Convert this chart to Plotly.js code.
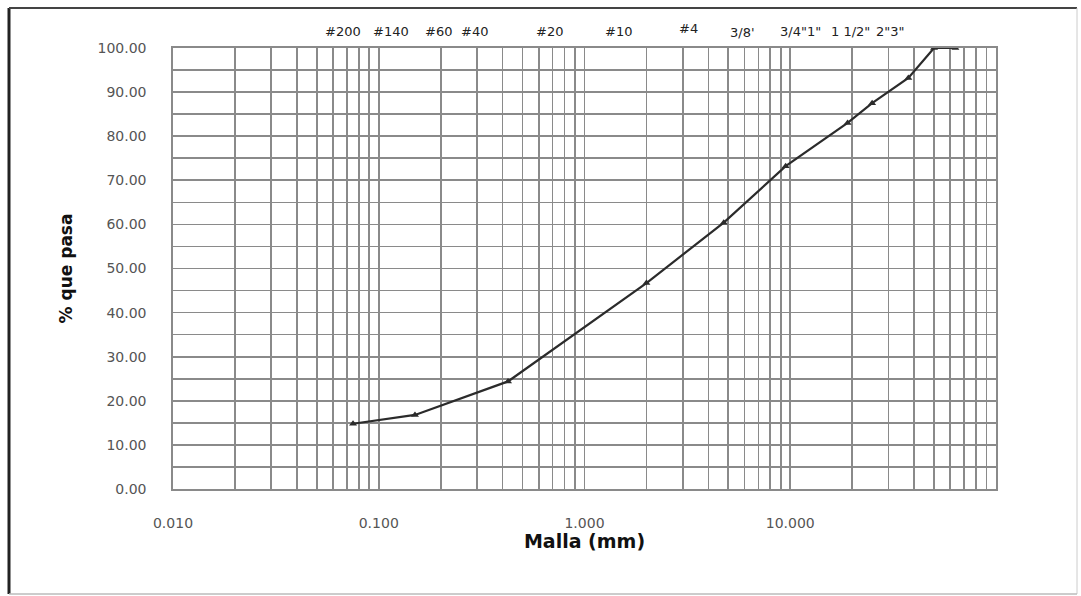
<!DOCTYPE html>
<html>
<head>
<meta charset="utf-8">
<script src="https://cdn.plot.ly/plotly-3.0.1.min.js"></script>
<style>
  html, body { margin: 0; padding: 0; background: #fff; }
  #chart { width: 1081px; height: 596px; }
</style>
</head>
<body>
<div id="chart"></div>
<script>
// ---- data ----
const sieveSizes = [0.075, 0.15, 0.425, 2.0, 4.75, 9.5, 19.0, 25.0, 37.5, 50.0, 63.5];
const percentPassing = [14.8, 16.8, 24.4, 46.7, 60.4, 73.2, 83.0, 87.5, 93.2, 100.0, 100.0];
const sieveLabels = ["#200", "#140", "#60", "#40", "#20", "#10", "#4", "3/8'", "3/4\"1\"", "1 1/2\"", "2\"3\""];
const xDecades = [0.01, 0.1, 1, 10, 100];
const xDecadeLabels = ["0.010", "0.100", "1.000", "10.000", ""];
const yTickValues = [0, 10, 20, 30, 40, 50, 60, 70, 80, 90, 100];
const yTickLabels = ["0.00", "10.00", "20.00", "30.00", "40.00", "50.00", "60.00", "70.00", "80.00", "90.00", "100.00"];

// ---- build grid ticks ----
const xTickVals = [], xTickText = [];
for (let d = 0; d < xDecades.length; d++) {
  const base = xDecades[d];
  xTickVals.push(base); xTickText.push(xDecadeLabels[d]);
  if (d < xDecades.length - 1) {
    for (let m = 2; m <= 9; m++) { xTickVals.push(+(base * m).toPrecision(6)); xTickText.push(""); }
  }
}
const yTickVals = [], yTickText = [];
for (let i = 0; i < yTickValues.length; i++) {
  yTickVals.push(yTickValues[i]); yTickText.push(yTickLabels[i]);
  if (i < yTickValues.length - 1) { yTickVals.push(yTickValues[i] + 5); yTickText.push(""); }
}

// ---- layout geometry (pixels) ----
const W = 1081, H = 596;
const M = { l: 173, r: 85, t: 48, b: 107 };
const pw = W - M.l - M.r, ph = H - M.t - M.b;
const px2x = p => (p - M.l) / pw;
const py2y = p => (H - M.b - p) / ph;

const labelPx = [343, 391, 438, 474, 549, 618, 688, 742, 800, 850, 890];
const labelPy = [31, 31, 31, 31, 31, 31, 28, 32, 31, 31, 31];
const annotations = sieveLabels.map((t, i) => ({
  text: t, xref: 'paper', yref: 'paper', x: px2x(labelPx[i]), y: py2y(labelPy[i]),
  xanchor: 'center', yanchor: 'middle', showarrow: false,
  font: { family: 'DejaVu Sans', size: 13, color: '#222' }
}));

const frame = [
  { x0: 9, y0: 8, x1: 9, y1: 594, color: '#222', w: 3 },
  { x0: 9, y0: 8, x1: 1077, y1: 8, color: '#444', w: 2 },
  { x0: 1077, y0: 8, x1: 1077, y1: 594, color: '#ccc', w: 1 },
  { x0: 9, y0: 594, x1: 1077, y1: 594, color: '#bbb', w: 1.5 }
];
const shapes = frame.map(f => ({
  type: 'line', xref: 'paper', yref: 'paper',
  x0: px2x(f.x0), x1: px2x(f.x1), y0: py2y(f.y0), y1: py2y(f.y1),
  line: { color: f.color, width: f.w }
}));

const trace = {
  x: sieveSizes, y: percentPassing, type: 'scatter', mode: 'lines+markers',
  line: { color: '#2b2b2b', width: 2.2, shape: 'linear' },
  marker: { symbol: 'triangle-up', size: 7, color: '#2b2b2b' },
  hoverinfo: 'x+y'
};

const layout = {
  width: W, height: H,
  margin: M,
  paper_bgcolor: '#fff', plot_bgcolor: '#fff',
  showlegend: false,
  font: { family: 'DejaVu Sans', color: '#444' },
  xaxis: {
    type: 'log', range: [-2, 2],
    tickmode: 'array', tickvals: xTickVals, ticktext: xTickText,
    showgrid: true, gridcolor: '#8a8a8a', gridwidth: 1.7,
    showline: true, linecolor: '#8a8a8a', linewidth: 1.7, mirror: true,
    ticks: '', ticklabelstandoff: 20,
    tickfont: { family: 'DejaVu Sans', size: 14, color: '#555' },
    zeroline: false,
    title: { text: 'Malla (mm)', standoff: 3, font: { family: 'DejaVu Sans', size: 19, color: '#111', weight: 'bold' } }
  },
  yaxis: {
    range: [0, 100],
    tickmode: 'array', tickvals: yTickVals, ticktext: yTickText,
    showgrid: true, gridcolor: '#8a8a8a', gridwidth: 1.7,
    showline: true, linecolor: '#8a8a8a', linewidth: 1.7, mirror: true,
    ticks: '', ticklabelstandoff: 22,
    tickfont: { family: 'DejaVu Sans', size: 14, color: '#555' },
    zeroline: false,
    title: { text: '% que pasa', standoff: 20, font: { family: 'DejaVu Sans', size: 17, color: '#111', weight: 'bold' } }
  },
  annotations: annotations,
  shapes: shapes
};

Plotly.newPlot('chart', [trace], layout, { displayModeBar: false, staticPlot: true });
</script>
</body>
</html>
